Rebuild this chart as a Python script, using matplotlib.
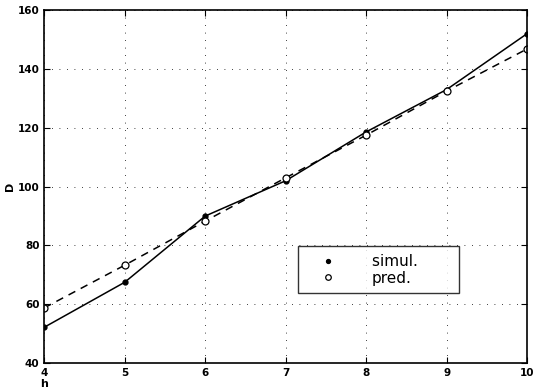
import matplotlib.pyplot as plt
import numpy as np

h = [4, 5, 6, 7, 8, 9, 10]
simul = [52.2, 67.5, 90.0, 102.0, 118.6, 133.0, 152.0]
pred = [58.8, 73.3, 88.3, 103.0, 117.5, 132.5, 146.8]


def draw_plot():
    plt.rcParams['font.family'] = 'DejaVu Sans'
    fig = plt.figure(figsize=(5.33, 3.88), dpi=100)
    ax = fig.add_axes([0.083, 0.064, 0.906, 0.91])

    ax.plot(h, simul, '-', color='black', lw=1.1)
    ax.plot(h, pred, '--', color='black', lw=1.1, dashes=(5, 4))
    ax.plot(h, simul, 'o', color='black', ms=3.5, label='simul.       ')
    ax.plot(h, pred, 'o', mfc='white', mec='black', ms=5, mew=0.9, label='pred.')

    ax.set_xlim(4, 10)
    ax.set_ylim(40, 160)
    ax.set_xticks(range(4, 11))
    ax.set_yticks(range(40, 161, 20))
    ax.grid(True, linestyle=(0, (1, 8)), color='black', lw=0.6)
    ax.tick_params(direction='in', top=True, right=True, labelsize=7.5, length=4)
    for lab in ax.get_xticklabels() + ax.get_yticklabels():
        lab.set_fontweight('bold')
    for s in ax.spines.values():
        s.set_linewidth(1.2)

    ax.set_xlabel('h', fontsize=8, fontweight='bold', labelpad=-1)
    ax.xaxis.set_label_coords(0.0, -0.045)
    ax.set_ylabel('D', fontsize=8, fontweight='bold', labelpad=2)

    leg = ax.legend(loc='lower left', bbox_to_anchor=(0.526, 0.198), fontsize=11,
                    frameon=True, fancybox=False, edgecolor='black',
                    handlelength=2.9, handletextpad=1.4, borderpad=0.5,
                    labelspacing=0.1, borderaxespad=0, markerscale=0.8)
    leg.get_frame().set_linewidth(1.0)

    fig.savefig('out.png', dpi=100)


def main():
    draw_plot()


if __name__ == "__main__":
    main()
